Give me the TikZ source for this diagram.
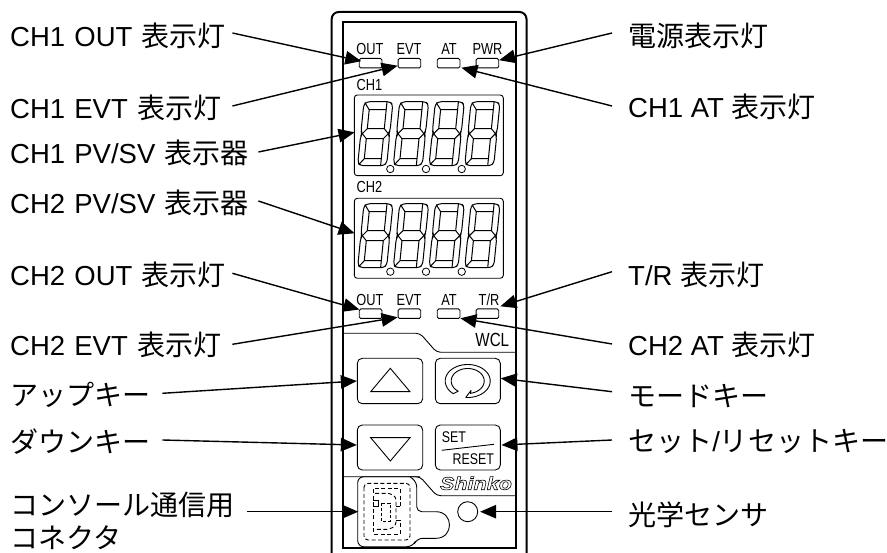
\documentclass[tikz,border=0pt]{standalone}
\usepackage{fontspec}
\setmainfont{Liberation Sans}
\newfontfamily\jpf[Scale=1.02]{Noto Sans CJK JP}
\newfontfamily\panelf[FakeStretch=0.8]{Liberation Sans}
\newfontfamily\logof[FakeStretch=1.2]{Liberation Sans Bold Italic}
\newcommand{\jp}[1]{{\jpf #1}}
\usetikzlibrary{arrows.meta}
\tikzset{
  thinln/.style={line width=0.9pt},
  led/.style={draw,line width=0.9pt,rounded corners=1.5pt,minimum width=22.7pt,minimum height=9.5pt,inner sep=0pt},
  panel/.style={inner sep=0pt,font=\panelf\fontsize{16}{16}\selectfont},
  lblL/.style={anchor=base west,inner sep=0pt,text width=#1,text height=20pt,text depth=0pt,align=left,font=\fontsize{27.5}{27.5}\selectfont},
  lblR/.style={anchor=base west,inner ysep=0pt,inner xsep=16pt,text height=20pt,text depth=0pt,font=\fontsize{27.5}{27.5}\selectfont},
  arr/.style={line width=1.4pt,-{Triangle[length=16pt,width=13.5pt]}},
  keybox/.style={draw,line width=0.9pt,rounded corners=5pt,inner sep=0pt},
  dashln/.style={line width=0.9pt,dash pattern=on 4pt off 2.5pt},
  segdigit/.pic={
    \begin{scope}[xslant=0.1,line width=1pt,line join=round]
      \draw[rounded corners=3pt] (3,0) -- (26,0) -- (29,3) -- (29,29) -- (27.5,32) -- (29,35) -- (29,61) -- (26,64) -- (3,64) -- (0,61) -- (0,35) -- (1.5,32) -- (0,29) -- (0,3) -- cycle;
      \draw (6,8) rectangle (23,27);
      \draw (6,37) rectangle (23,57);
      \draw (1,1) -- (6,8) (23,0) -- (23,8);
      \draw (1.5,32) -- (6,27) (23,27) -- (27.5,32) -- (23,37) (6,37) -- (1.5,32);
      \draw (1,63) -- (6,57) (23,57) -- (23,64);
    \end{scope}
  }
}
\begin{document}
\begin{tikzpicture}[x=1pt,y=-1pt]
\useasboundingbox (0,0) rectangle (887,553);
\fill[white] (0,0) rectangle (887,553);
% case
\draw[line width=2pt,rounded corners=7pt] (331.7,560) -- (331.7,12) -- (526.5,12) -- (526.5,560);
\draw[line width=2pt] (342.5,548) -- (342.5,22.5) -- (516,22.5) -- (516,548) -- cycle;
% LEDs
\node[led] (led1) at (370.6,63.2) {};
\node[led] (led2) at (409.4,63.2) {};
\node[led] (led3) at (448.6,63.2) {};
\node[led] (led4) at (487.4,63.2) {};
\node[led] (led5) at (370.6,313.7) {};
\node[led] (led6) at (409.4,313.7) {};
\node[led] (led7) at (448.6,313.7) {};
\node[led] (led8) at (487.4,313.7) {};
\node[panel] (t1) at (370,49) {OUT};
\node[panel] (t2) at (409,49) {EVT};
\node[panel] (t3) at (449,49) {AT};
\node[panel] (t4) at (487.5,49) {PWR};
\node[panel] (t5) at (370,299.5) {OUT};
\node[panel] (t6) at (409,299.5) {EVT};
\node[panel] (t7) at (449,299.5) {AT};
\node[panel] (t8) at (489,299.5) {T/R};
\node[panel,anchor=west] (ch1) at (356.5,85) {CH1};
\node[panel,anchor=west] (ch2) at (356.5,187) {CH2};
% displays
\node[draw,thinln,rounded corners=3pt,minimum width=149pt,minimum height=80.7pt,inner sep=0pt] (disp1) at (428.8,135.35) {};
\node[draw,thinln,rounded corners=3pt,minimum width=149pt,minimum height=80pt,inner sep=0pt] (disp2) at (428.8,238.3) {};
\foreach \k in {0,1,2,3}{
  \pic at (364+35.7*\k,101.7) {segdigit};
  \pic at (364+35.7*\k,203.7) {segdigit};
}
\foreach \k in {0,1,2}{
  \draw[line width=0.8pt] (390.3+35.7*\k,169) circle (3.7);
  \draw[line width=0.8pt] (390.3+35.7*\k,271.7) circle (3.7);
}
% WCL band
\draw[thinln,rounded corners=4pt] (342.5,333.3) -- (420,333.3) -- (436.7,352.3) -- (516,352.3);
\node[panel,font=\panelf\fontsize{19}{19}\selectfont] (wcl) at (492.3,340) {WCL};
% keys
\node[keybox,minimum width=65.4pt,minimum height=45.4pt] (up) at (390,381) {};
\node[keybox,minimum width=65pt,minimum height=45.4pt] (mode) at (467.8,381) {};
\node[keybox,minimum width=65.4pt,minimum height=45pt] (down) at (390,447.5) {};
\node[keybox,minimum width=65pt,minimum height=45pt] (setk) at (467.8,447.5) {};
\draw[thinln] (390.3,368.3) -- (410,391.7) -- (370.7,391.7) -- cycle;
\draw[thinln] (390.3,461) -- (410,437.7) -- (370.7,437.7) -- cycle;
% mode key icon
\draw[thinln,line join=round] plot[domain=130:455,samples=70] ({467.7+22.5*cos(\x)},{381+16.5*sin(\x)})
  -- (471,390.5) -- (470.5,393.6)
  -- plot[domain=80:-235,samples=70] ({467.7+16.5*cos(\x)},{381+12.5*sin(\x)}) -- cycle;
\node[panel,font=\panelf\fontsize{15.5}{15.5}\selectfont] (tset) at (454,436.7) {SET};
\node[panel,font=\panelf\fontsize{15.5}{15.5}\selectfont] (trst) at (473.3,459) {RESET};
\draw[thinln] (441.7,450.3) -- (494,444.3);
% lower band
\draw[thinln,rounded corners=4pt] (342.5,476.7) -- (420,476.7) -- (436.7,495.7) -- (516,495.7);
\node[inner sep=0pt,font=\logof\fontsize{18}{18}\selectfont] (logo) at (476,483.3) {\special{pdf:code 1 Tr 0.6 w}Shinko\special{pdf:code 0 Tr 1 w}};
% connector cover
\draw[thinln,rounded corners=6pt] (420,476.7) -- (357.7,476.7) -- (357.7,546.7) -- (413,546.7) -- (416.7,538.3) -- (436,538.3);
\draw[thinln] (436,538.3) .. controls (454,538.3) and (454,511.7) .. (436,511.7);
\draw[thinln,rounded corners=5pt] (436,511.7) -- (416.7,511.7) -- (416.7,482) -- (410,476.7);
\coordinate (conn) at (358.3,511.7);
\draw[dashln,rounded corners=4pt] (364,483.3) rectangle (410,540);
\draw[dashln] (400,506) -- (400,488.3) -- (373.3,488.3) -- (373.3,534) -- (400,534) -- (400,520);
\draw[dashln,rounded corners=3pt] (375,493.3) -- (390,493.3) -- (396,497) -- (396,525) -- (390,529.3) -- (375,529.3);
\draw[thinln,dash pattern=on 3pt off 2pt] (381.7,503.3) rectangle (390,521.7);
\draw[thinln] (396,506) -- (400,506) (396,520) -- (400,520) (373.3,500) -- (378,500) -- (378,506) -- (373.3,506);
\node[draw,thinln,circle,minimum size=20pt,inner sep=0pt] (sensor) at (467.7,511.7) {};
% labels left
\node[lblL=222pt] (a1) at (10,46.7) {\mbox{CH1 OUT \jp{表示灯}}};
\node[lblL=222pt] (a2) at (10,118.3) {\mbox{CH1 EVT \jp{表示灯}}};
\node[lblL=248pt] (a3) at (10,164) {\mbox{CH1 PV/SV \jp{表示器}}};
\node[lblL=248pt] (a4) at (10,214) {\mbox{CH2 PV/SV \jp{表示器}}};
\node[lblL=222pt] (a5) at (10,286) {\mbox{CH2 OUT \jp{表示灯}}};
\node[lblL=222pt] (a6) at (10,356) {\mbox{CH2 EVT \jp{表示灯}}};
\node[lblL=152pt] (a7) at (10,406) {\jp{アップキー}};
\node[lblL=152pt] (a8) at (10,453) {\jp{ダウンキー}};
\node[lblL=237pt] (a9) at (10,515.5) {\jp{コンソール通信用}};
\node[lblL=237pt] (a10) at (10,548) {\jp{コネクタ}};
% labels right
\node[lblR] (b1) at (612,47) {\jp{電源表示灯}};
\node[lblR] (b2) at (612,118) {CH1 AT \jp{表示灯}};
\node[lblR] (b3) at (612,286) {T/R \jp{表示灯}};
\node[lblR] (b4) at (612,356) {CH2 AT \jp{表示灯}};
\node[lblR] (b5) at (612,407) {\jp{モードキー}};
\node[lblR] (b6) at (612,452) {\jp{セット}/\jp{リセットキー}};
\node[lblR] (b7) at (612,525) {\jp{光学センサ}};
% connectors
\draw[arr] ([yshift=3.7pt]a1.east) -- ([shift={(2.5,3.2)}]led1.north west);
\draw[arr] ([yshift=2.3pt]a2.east) -- ([shift={(0,2.5)}]led2.west);
\draw[arr] ([yshift=2pt]a3.east) -- ([shift={(0.7,-3)}]disp1.west);
\draw[arr] ([yshift=3pt]a4.east) -- ([shift={(0.7,-5)}]disp2.west);
\draw[arr] ([yshift=2.7pt]a5.east) -- ([shift={(0.5,1)}]led5.north west);
\draw[arr] ([yshift=1.7pt]a6.east) -- ([shift={(0,3.6)}]led6.west);
\draw[arr] ([yshift=2.7pt]a7.east) -- (up.west);
\draw[arr] ([yshift=3pt]a8.east) -- ([shift={(0,-2.5)}]down.west);
\draw[arr] ([yshift=-6.2pt]a9.east) -- (conn);
\draw[arr] ([yshift=4pt]b1.west) -- ([shift={(0,-3)}]led4.east);
\draw[arr] ([yshift=2pt]b2.west) -- ([shift={(1,4.5)}]led3.east);
\draw[arr] ([yshift=4.3pt]b3.west) -- ([shift={(1.2,-2.2)}]led8.north east);
\draw[arr] ([yshift=2pt]b4.west) -- ([shift={(0,4.6)}]led7.east);
\draw[arr] ([yshift=5.3pt]b5.west) -- ([shift={(0,-2.7)}]mode.east);
\draw[arr] ([yshift=2pt]b6.west) -- ([shift={(0.7,-2.5)}]setk.east);
\draw[arr] ([yshift=3.3pt]b7.west) -- ([shift={(2,0)}]sensor.east);
\end{tikzpicture}
\end{document}
